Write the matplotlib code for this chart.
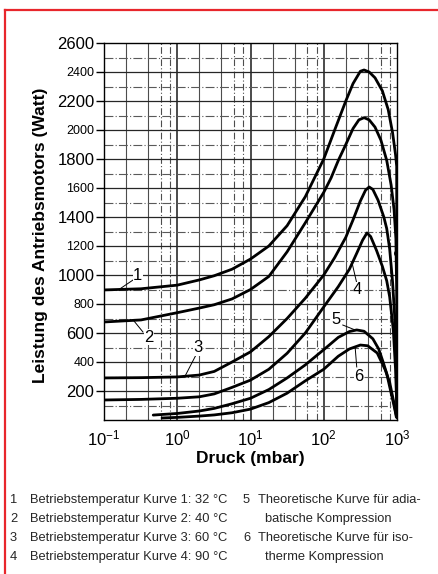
import numpy as np
import matplotlib.pyplot as plt
from matplotlib.lines import Line2D

# -------------------------
# Data
# pressure in mbar, power in W
# -------------------------
p1 = [0.1, 0.32, 1, 2, 3.2, 5.6, 10, 17.8, 31.6, 56, 100, 141, 200, 251, 316, 355, 417,
      501, 631, 759, 871, 955, 990, 993]
w1 = [897, 905, 930, 966, 995, 1040, 1110, 1200, 1340, 1540, 1800, 2000, 2200, 2320, 2405,
      2414, 2400, 2360, 2270, 2140, 1980, 1830, 1750, 1150]

p2 = [0.1, 0.32, 1, 2, 3.2, 5.6, 10, 17.8, 31.6, 56, 100, 126, 158, 200, 251, 302, 355,
      417, 501, 603, 724, 832, 912, 966, 989, 1000]
w2 = [676, 690, 740, 772, 795, 835, 900, 990, 1160, 1360, 1570, 1670, 1790, 1900, 2010,
      2070, 2085, 2070, 2020, 1930, 1790, 1620, 1450, 1250, 900, 60]

p3 = [0.1, 0.32, 1, 2, 3.2, 5.6, 10, 17.8, 31.6, 56, 100, 141, 200, 251, 316, 372, 417,
      468, 550, 661, 724, 794, 871, 933, 977, 1000]
w3 = [290, 292, 297, 310, 335, 400, 470, 575, 700, 840, 1000, 1120, 1260, 1380, 1510,
      1585, 1607, 1590, 1517, 1400, 1320, 1180, 950, 700, 400, 80]

p4 = [0.1, 0.32, 1, 2, 3.2, 5.6, 10, 17.8, 31.6, 56, 100, 158, 224, 282, 339, 389, 437,
      525, 631, 724, 794, 891, 955, 1000]
w4 = [138, 142, 150, 160, 180, 225, 275, 350, 460, 600, 780, 920, 1040, 1150, 1240, 1290,
      1265, 1170, 1060, 960, 850, 620, 350, 50]

p5 = [0.47, 1, 2, 3.2, 5.6, 10, 17.8, 31.6, 56, 100, 158, 224, 282, 355, 468, 562, 646,
      724, 794, 891, 955, 1000]
w5 = [34, 45, 62, 80, 112, 150, 210, 290, 380, 485, 570, 610, 621, 612, 560, 490, 400,
      320, 230, 120, 50, 14]

p6 = [0.62, 1, 2, 3.2, 5.6, 10, 17.8, 31.6, 56, 100, 158, 224, 316, 398, 537, 692, 794,
      851, 933, 977]
w6 = [14, 18, 27, 35, 50, 75, 120, 185, 270, 350, 440, 490, 517, 512, 462, 345, 260,
      186, 90, 21]

curves_p = [p1, p2, p3, p4, p5, p6]
curves_w = [w1, w2, w3, w4, w5, w6]

# curve labels: text position and leader line (from curve to label)
label_text = ["1", "2", "3", "4", "5", "6"]
label_pos = [(0.29, 1000), (0.41, 572), (1.9, 497), (290, 897), (148, 690), (300, 297)]
leader_from = [(0.16, 900), (0.25, 690), (1.27, 300), (243, 1085), (268, 621), (268, 505)]
leader_to = [(0.25, 966), (0.34, 607), (1.80, 448), (282, 945), (182, 655), (282, 366)]

y_ticks = [200, 400, 600, 800, 1000, 1200, 1400, 1600, 1800, 2000, 2200, 2400, 2600]
x_ticks = [0.1, 1, 10, 100, 1000]

legend_left = [("1", "Betriebstemperatur Kurve 1: 32 °C"),
               ("2", "Betriebstemperatur Kurve 2: 40 °C"),
               ("3", "Betriebstemperatur Kurve 3: 60 °C"),
               ("4", "Betriebstemperatur Kurve 4: 90 °C")]
legend_right = [("5", "Theoretische Kurve für adia-"),
                ("", "batische Kompression"),
                ("6", "Theoretische Kurve für iso-"),
                ("", "therme Kompression")]

# -------------------------
# Fonts
# -------------------------
plt.rcParams["font.family"] = ["Liberation Sans", "DejaVu Sans"]
plt.rcParams["mathtext.fontset"] = "custom"
plt.rcParams["mathtext.rm"] = "Liberation Sans"
plt.rcParams["mathtext.it"] = "Liberation Sans"

# -------------------------
# Figure
# -------------------------
fig = plt.figure(figsize=(4.38, 5.74), dpi=100)
ax = fig.add_axes([104 / 438, 1 - 420 / 574, 293 / 438, 377 / 574])
ax.set_xscale("log")
ax.set_xlim(0.1, 1000)
ax.set_ylim(0, 2600)

# grid, imitating log paper
for dec in [0.1, 1, 10, 100]:
    for m in [2, 4, 6, 8]:
        ls = "-" if m in (2, 4) else (0, (6, 2, 1, 2))
        ax.axvline(dec * m, color="0.3", lw=0.8, ls=ls, zorder=1)
for dec in [1, 10, 100]:
    ax.axvline(dec, color="0.1", lw=1.1, zorder=1)
for yv in range(100, 2600, 100):
    if yv % 200 == 0:
        ax.axhline(yv, color="0.15", lw=0.9, zorder=1)
    else:
        ax.axhline(yv, color="0.35", lw=0.8, ls=(0, (8, 2, 1, 2)), zorder=1)

# curves
for p, w in zip(curves_p, curves_w):
    ax.plot(p, w, color="black", lw=2.0, solid_joinstyle="round",
            solid_capstyle="round", zorder=3)
ax.plot([p1[-1]], [w1[-1]], "o", color="black", ms=4, zorder=4)

# curve labels
for t, pos, a, b in zip(label_text, label_pos, leader_from, leader_to):
    ax.plot([a[0], b[0]], [a[1], b[1]], color="black", lw=0.7, zorder=3)
    ax.text(pos[0], pos[1], t, fontsize=12, ha="center", va="center", zorder=5,
            bbox=dict(facecolor="white", edgecolor="none", pad=0.3))

# ticks
ax.set_yticks(y_ticks)
ax.set_yticklabels([str(v) for v in y_ticks])
for lab, v in zip(ax.get_yticklabels(), y_ticks):
    lab.set_fontsize(12 if (v // 200) % 2 == 1 else 9)
ax.tick_params(axis="y", length=6, width=1, pad=1)
ax.set_xticks(x_ticks)
ax.xaxis.set_minor_locator(plt.NullLocator())
ax.tick_params(axis="x", length=0, pad=6, labelsize=12)
for s in ax.spines.values():
    s.set_linewidth(1.0)
    s.set_color("black")

fig.text(41 / 438, 1 - 235 / 574, "Leistung des Antriebsmotors (Watt)", rotation=90,
         ha="center", va="center", fontsize=12.5, fontweight="bold")
fig.text(250 / 438, 1 - 458 / 574, "Druck (mbar)", ha="center", va="center",
         fontsize=12.5, fontweight="bold")

# legend text at bottom
fs = 9.3
rows_y = [500, 519, 538, 557]
for (num, txt), y in zip(legend_left, rows_y):
    fig.text(10 / 438, 1 - y / 574, num, fontsize=fs, va="center", color="0.15")
    fig.text(30 / 438, 1 - y / 574, txt, fontsize=fs, va="center", color="0.15")
for (num, txt), y in zip(legend_right, rows_y):
    if num:
        fig.text(243 / 438, 1 - y / 574, num, fontsize=fs, va="center", color="0.15")
        fig.text(258 / 438, 1 - y / 574, txt, fontsize=fs, va="center", color="0.15")
    else:
        fig.text(265 / 438, 1 - y / 574, txt, fontsize=fs, va="center", color="0.15")

# red frame (top and left)
red = "#e8262c"
fig.add_artist(Line2D([5 / 438, 1], [1 - 10 / 574, 1 - 10 / 574], color=red, lw=1.6,
                      transform=fig.transFigure))
fig.add_artist(Line2D([5 / 438, 5 / 438], [0, 1 - 10 / 574], color=red, lw=1.6,
                      transform=fig.transFigure))

fig.savefig("out.png", dpi=100)
